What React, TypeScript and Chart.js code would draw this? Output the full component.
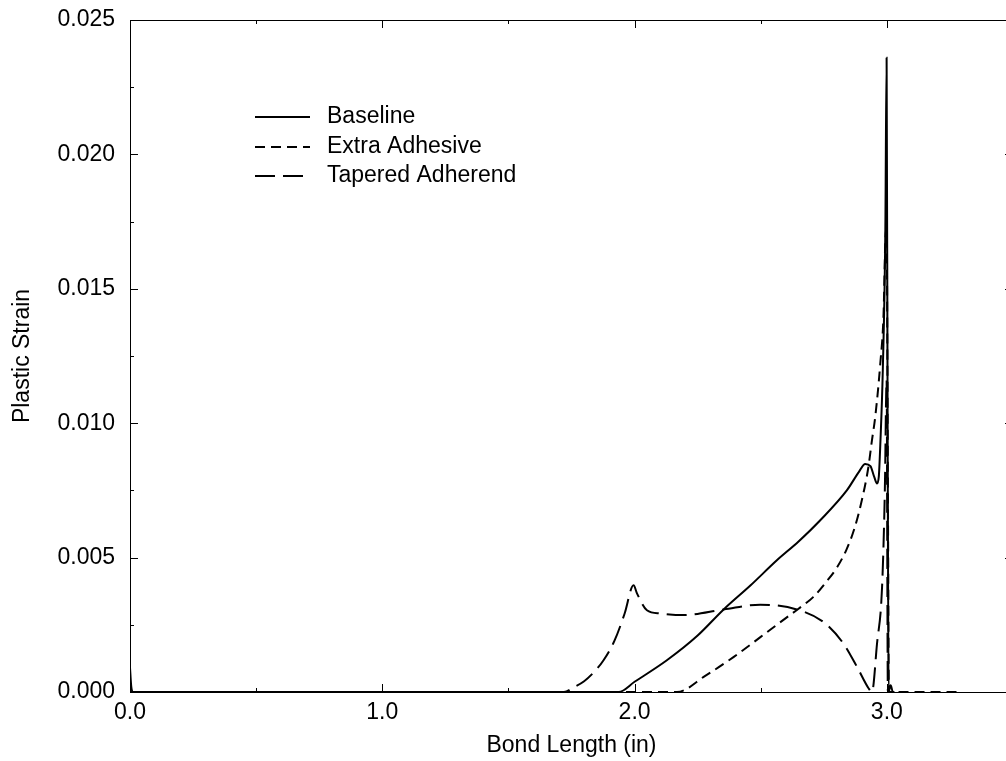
import React, { useEffect, useRef } from "react";
import { Chart, registerables } from "chart.js";

Chart.register(...registerables);

// ---- Data ----
const baselineX = [0, 0.005, 0.012, 1.937, 2.0, 2.128, 2.25, 2.353, 2.46, 2.564, 2.65, 2.736, 2.842, 2.89, 2.914, 2.935, 2.95, 2.961, 2.968, 2.974, 2.984, 2.994, 2.999, 3.003, 3.007, 3.015, 3.024, 3.03];
const baselineY = [0.0009, 0.0002, 0, 0, 0.00038, 0.00118, 0.0021, 0.00307, 0.00397, 0.0049, 0.0056, 0.00639, 0.00751, 0.0082, 0.00848, 0.0084, 0.008, 0.00776, 0.008, 0.0092, 0.012, 0.0172, 0.0236, 0.01, 0, 0.00025, 0, 0];

const extraX = [0, 2.168, 2.28, 2.392, 2.5, 2.578, 2.65, 2.709, 2.76, 2.8, 2.84, 2.872, 2.901, 2.927, 2.941, 2.954, 2.974, 2.987, 2.994, 2.999, 3.004, 3.008, 3.283];
const extraY = [0, 0, 0.0006, 0.0013, 0.00205, 0.0026, 0.0031, 0.00354, 0.0041, 0.0046, 0.0053, 0.0061, 0.00714, 0.00838, 0.00937, 0.01024, 0.01223, 0.01409, 0.0168, 0.0172, 0.008, 0, 0];

const taperX = [0, 1.72, 1.76, 1.8, 1.84, 1.877, 1.92, 1.96, 1.996, 2.01, 2.049, 2.102, 2.194, 2.353, 2.498, 2.643, 2.749, 2.828, 2.882, 2.928, 2.941, 2.961, 2.981, 2.992, 2.999, 3.004, 3.01];
const taperY = [0, 0, 0.00018, 0.0004, 0.00075, 0.00118, 0.0019, 0.0029, 0.00397, 0.00366, 0.00304, 0.00292, 0.00286, 0.00307, 0.00325, 0.00307, 0.0026, 0.0018, 0.00093, 0.00013, 0, 0.0018, 0.0039, 0.0075, 0.0116, 0, 0];

const seriesNames = ["Baseline", "Extra Adhesive", "Tapered Adherend"];
const seriesDashes: number[][] = [[], [10, 6], [20, 8]];

const xMin = 0;
const xMax = 3.5;
const xStep = 0.5;
const yMin = 0;
const yMax = 0.025;
const yStep = 0.0025;
const yMajor = 0.005;

const xTitle = "Bond Length (in)";
const yTitle = "Plastic Strain";

const FONT = "'Liberation Sans', Arial, Helvetica, sans-serif";
const FS = 23;

const toPoints = (xs: number[], ys: number[]) => xs.map((x, i) => ({ x, y: ys[i] }));

const isMult = (v: number, m: number) => Math.abs(Math.round(v / m) * m - v) < 1e-9;

const framePlugin = {
  id: "frameTicksLegend",
  afterDraw(chart: any) {
    const { ctx, chartArea } = chart;
    const { left, right, top, bottom } = chartArea;
    const xs = chart.scales.x;
    const ys = chart.scales.y;
    ctx.save();
    ctx.strokeStyle = "#000";
    ctx.lineWidth = 1;
    ctx.setLineDash([]);
    ctx.strokeRect(Math.round(left) + 0.5, Math.round(top) + 0.5, Math.round(right - left), Math.round(bottom - top));
    ctx.beginPath();
    for (let v = xMin; v <= xMax + 1e-9; v += xStep) {
      const px = Math.round(xs.getPixelForValue(v)) + 0.5;
      const len = isMult(v, 1) ? 8 : 4;
      ctx.moveTo(px, bottom);
      ctx.lineTo(px, bottom - len);
      ctx.moveTo(px, top);
      ctx.lineTo(px, top + len);
    }
    for (let i = 0; i * yStep <= yMax + 1e-12; i++) {
      const v = yMin + i * yStep;
      const py = Math.round(ys.getPixelForValue(v)) + 0.5;
      const len = isMult(v, yMajor) ? 8 : 4;
      ctx.moveTo(left, py);
      ctx.lineTo(left + len, py);
      ctx.moveTo(right, py);
      ctx.lineTo(right - len, py);
    }
    ctx.stroke();

    // legend
    const lx0 = 255;
    const lx1 = 310;
    const ly = [117, 147, 176];
    ctx.lineWidth = 2;
    ctx.font = `${FS}px ${FONT}`;
    ctx.fillStyle = "#000";
    ctx.textBaseline = "middle";
    ctx.textAlign = "left";
    seriesNames.forEach((name, i) => {
      ctx.beginPath();
      ctx.setLineDash(seriesDashes[i]);
      ctx.moveTo(lx0, ly[i]);
      ctx.lineTo(lx1, ly[i]);
      ctx.stroke();
      ctx.fillText(name, 327, ly[i]);
    });
    ctx.restore();
  },
};

export default function App() {
  const ref = useRef<HTMLCanvasElement | null>(null);
  useEffect(() => {
    if (!ref.current) return;
    const common = {
      borderColor: "#000",
      backgroundColor: "#000",
      borderWidth: 2,
      pointRadius: 0,
      fill: false,
      cubicInterpolationMode: "monotone" as const,
    };
    const chart = new Chart(ref.current, {
      type: "line",
      data: {
        datasets: [
          { ...common, label: seriesNames[0], data: toPoints(baselineX, baselineY), borderDash: seriesDashes[0] },
          { ...common, label: seriesNames[1], data: toPoints(extraX, extraY), borderDash: seriesDashes[1] },
          { ...common, label: seriesNames[2], data: toPoints(taperX, taperY), borderDash: seriesDashes[2] },
        ],
      },
      options: {
        animation: false,
        responsive: false,
        devicePixelRatio: 1,
        layout: { padding: { top: 20, right: 7, bottom: 0, left: 0 } },
        plugins: { legend: { display: false }, tooltip: { enabled: false } },
        scales: {
          x: {
            type: "linear",
            min: xMin,
            max: xMax,
            grid: { display: false, drawTicks: false },
            border: { display: false },
            ticks: {
              stepSize: xStep,
              autoSkip: false,
              maxRotation: 0,
              padding: 7,
              color: "#000",
              font: { family: FONT, size: FS },
              callback: (v: any) => (isMult(Number(v), 1) ? Number(v).toFixed(1) : ""),
            },
            title: { display: true, text: xTitle, color: "#000", font: { family: FONT, size: FS }, padding: { top: 0, bottom: 2 } },
            afterFit: (s: any) => {
              s.height = 69;
              s.paddingLeft = 0;
              s.paddingRight = 0;
            },
          },
          y: {
            type: "linear",
            min: yMin,
            max: yMax,
            grid: { display: false, drawTicks: false },
            border: { display: false },
            ticks: {
              stepSize: yStep,
              autoSkip: false,
              padding: 15,
              color: "#000",
              font: { family: FONT, size: FS },
              callback: (v: any) => (isMult(Number(v), yMajor) ? Number(v).toFixed(3) : ""),
            },
            title: { display: true, text: yTitle, color: "#000", font: { family: FONT, size: FS }, padding: { top: 9, bottom: 0 } },
            afterFit: (s: any) => {
              s.width = 130;
              s.paddingTop = 0;
              s.paddingBottom = 0;
            },
          },
        },
      },
      plugins: [framePlugin],
    });
    return () => chart.destroy();
  }, []);

  return (
    <div style={{ position: "fixed", left: 0, top: 0, width: 1006, height: 761, overflow: "hidden", background: "#fff" }}>
      <canvas ref={ref} width={1020} height={761} style={{ display: "block", width: 1020, height: 761 }} />
    </div>
  );
}
